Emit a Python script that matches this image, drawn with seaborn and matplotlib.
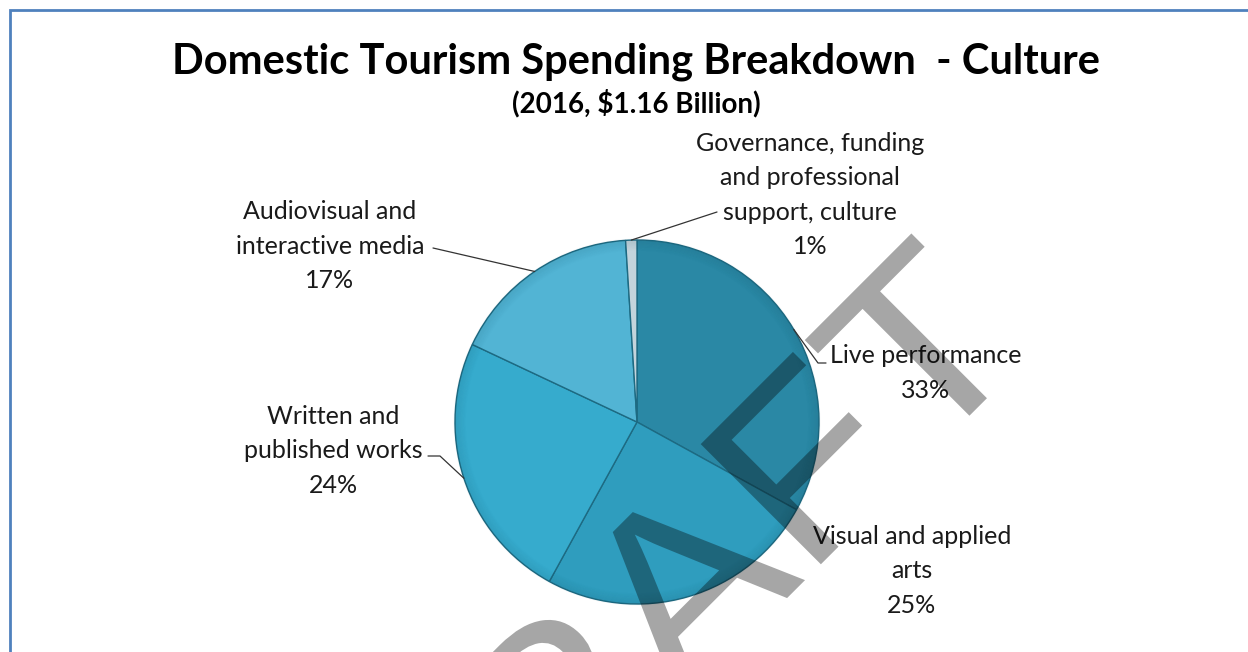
import numpy as np
import matplotlib
matplotlib.use("Agg")
import matplotlib.pyplot as plt
import seaborn as sns
from matplotlib.patches import Rectangle, PathPatch
from matplotlib.textpath import TextPath
from matplotlib.font_manager import FontProperties
from matplotlib.transforms import Affine2D

sns.set_theme(style="white")
plt.rcParams["font.family"] = ["Lato", "DejaVu Sans"]

# Spending shares by culture domain, drawn clockwise from 12 o'clock
categories = [
    "Live performance",
    "Visual and applied\narts",
    "Written and\npublished works",
    "Audiovisual and\ninteractive media",
    "Governance, funding\nand professional\nsupport, culture",
]
shares = [33, 25, 24, 17, 1]
colors = ["#2a88a5", "#2f9dbe", "#36abcd", "#52b4d4", "#c3d4dc"]

title = "Domestic Tourism Spending Breakdown  - Culture"
subtitle = "(2016, $1.16 Billion)"

W, H = 1248, 652
fig = plt.figure(figsize=(W / 100, H / 100), dpi=100)
ax = fig.add_axes([0, 0, 1, 1])

# outer frame
fig.patches.append(Rectangle((10 / W, -0.1), 1.2, 1 - 10 / H + 0.1,
                             transform=fig.transFigure, fill=False,
                             edgecolor="#4f81bd", linewidth=2))

cx, cy, r = 637, H - 422, 182
wedges, _ = ax.pie(shares, colors=colors, startangle=90, counterclock=False,
                   center=(cx, cy), radius=r, frame=True,
                   wedgeprops=dict(edgecolor="#1d6a82", linewidth=1.0))
ax.set_xlim(0, W)
ax.set_ylim(0, H)
ax.set_aspect("equal")
ax.axis("off")

# subtle rim shading for depth
for k in range(10):
    rr = r * (1 - k * 0.006)
    circ = plt.Circle((cx, cy), rr, fill=False, edgecolor="#0f4a5c",
                      linewidth=2, alpha=0.05 * (10 - k) / 10)
    ax.add_patch(circ)

# label placement (text centre, leader points leading to the slice edge)
label_pos = {
    0: dict(xy=(926, H - 373), leader=[(826, H - 363), (818, H - 363)]),
    1: dict(xy=(912, H - 571), leader=None),
    2: dict(xy=(333, H - 451), leader=[(428, H - 456), (440, H - 456)]),
    3: dict(xy=(330, H - 246), leader=[(433, H - 248)]),
    4: dict(xy=(810, H - 195), leader=[(717, H - 212)]),
}

label_font = dict(fontsize=18, color="#1a1a1a", ha="center", va="center",
                  linespacing=1.6)
for i, (w, name, val) in enumerate(zip(wedges, categories, shares)):
    mid = np.deg2rad((w.theta1 + w.theta2) / 2)
    edge = (cx + r * np.cos(mid), cy + r * np.sin(mid))
    pos = label_pos[i]
    ax.text(pos["xy"][0], pos["xy"][1], f"{name}\n{val}%", **label_font)
    if pos["leader"]:
        pts = pos["leader"] + [edge]
        xs, ys = zip(*pts)
        ax.plot(xs, ys, color="#333333", linewidth=0.9)

ax.text(636, H - 62, title, fontsize=30, fontweight="bold",
        ha="center", va="center", color="black")
ax.text(636, H - 103, subtitle, fontsize=20, fontweight="bold",
        ha="center", va="center", color="black")

# watermark, slightly widened and set diagonally
wm = TextPath((0, 0), "DRAFT", size=247,
              prop=FontProperties(family="Liberation Sans"))
ext = wm.get_extents()
wm_tf = (Affine2D()
         .translate(-(ext.x0 + ext.x1) / 2, -(ext.y0 + ext.y1) / 2)
         .scale(1.08, 1.0)
         .rotate_deg(45)
         .translate(667, H - 598))
ax.add_patch(PathPatch(wm_tf.transform_path(wm), facecolor="black",
                       edgecolor="none", alpha=0.35, zorder=10))

fig.savefig("out.png", dpi=100)
